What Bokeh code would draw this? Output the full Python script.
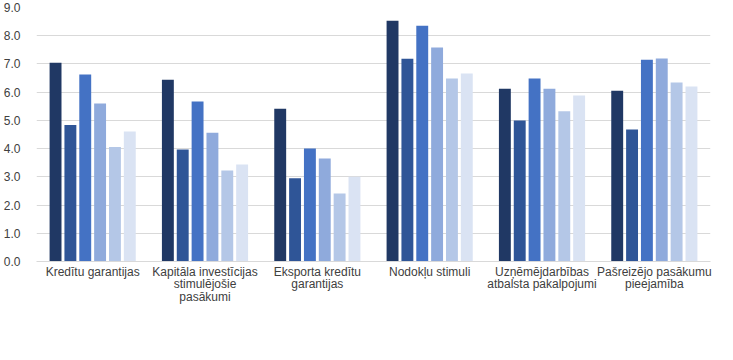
from bokeh.plotting import figure
from bokeh.models import FactorRange, Legend, LegendItem, SingleIntervalTicker, NumeralTickFormatter
from bokeh.transform import dodge
from bokeh.embed import file_html
from bokeh.resources import INLINE

categories = [
    "Kredītu garantijas",
    "Kapitāla investīcijas\nstimulējošie\npasākumi",
    "Eksporta kredītu\ngarantijas",
    "Nodokļu stimuli",
    "Uzņēmējdarbības\natbalsta pakalpojumi",
    "Pašreizējo pasākumu\npieejamība",
]
years = ["2011", "2013", "2014", "2015", "2016", "2017"]
v2011 = [7.04, 6.44, 5.41, 8.53, 6.12, 6.05]
v2013 = [4.84, 3.97, 2.95, 7.18, 5.00, 4.68]
v2014 = [6.63, 5.67, 4.00, 8.35, 6.48, 7.15]
v2015 = [5.60, 4.56, 3.65, 7.58, 6.12, 7.19]
v2016 = [4.06, 3.22, 2.41, 6.48, 5.32, 6.34]
v2017 = [4.61, 3.44, 3.00, 6.66, 5.88, 6.20]
colors = ["#203864", "#2F5597", "#4472C4", "#8FAADC", "#B4C7E7", "#DAE3F3"]

series = [v2011, v2013, v2014, v2015, v2016, v2017]
data = {"cat": categories}
for y, s in zip(years, series):
    data["y" + y] = s

FONT = "Liberation Sans"
TXT = "#404040"

p = figure(x_range=FactorRange(*categories, range_padding=0), y_range=(0, 9.0),
           width=717, height=344, output_backend="svg", toolbar_location=None,
           min_border_left=29, min_border_right=7, min_border_top=7, min_border_bottom=83)
p.outline_line_color = None

step = 0.1322
width = 0.106
items = []
for i, (y, c) in enumerate(zip(years, colors)):
    off = (i - 2.5) * step
    r = p.vbar(x=dodge("cat", off, range=p.x_range), top="y" + y, width=width,
               source=data, fill_color=c, line_color=None)
    items.append(LegendItem(label=y, renderers=[r]))

p.yaxis.ticker = SingleIntervalTicker(interval=1.0)
p.yaxis.formatter = NumeralTickFormatter(format="0.0")
p.yaxis.axis_line_color = None
p.yaxis.major_tick_line_color = None
p.yaxis.minor_tick_line_color = None
p.yaxis.major_label_text_font = FONT
p.yaxis.major_label_text_font_size = "12px"
p.yaxis.major_label_text_color = TXT
p.yaxis.major_label_standoff = 10

p.xaxis.axis_line_color = "#D9D9D9"
p.xaxis.major_tick_line_color = None
p.xaxis.minor_tick_line_color = None
p.xaxis.major_tick_out = 0
p.xaxis.major_label_text_font = FONT
p.xaxis.major_label_text_font_size = "12px"
p.xaxis.major_label_text_color = TXT
p.xaxis.major_label_standoff = 3
p.xaxis.major_label_text_line_height = 0.9

p.xgrid.grid_line_color = None
p.ygrid.grid_line_color = "#D9D9D9"

# legend drawn under the frame, positioned in screen pixels from the frame's bottom-left
legend = Legend(items=items, orientation="horizontal", location=(198, -64),
                glyph_width=7, glyph_height=7, label_standoff=3, spacing=10,
                label_text_font=FONT, label_text_font_size="12px", label_text_color=TXT,
                border_line_color=None, background_fill_alpha=0, padding=0, margin=0)
p.add_layout(legend)

open("out.html", "w").write(file_html(p, INLINE))
